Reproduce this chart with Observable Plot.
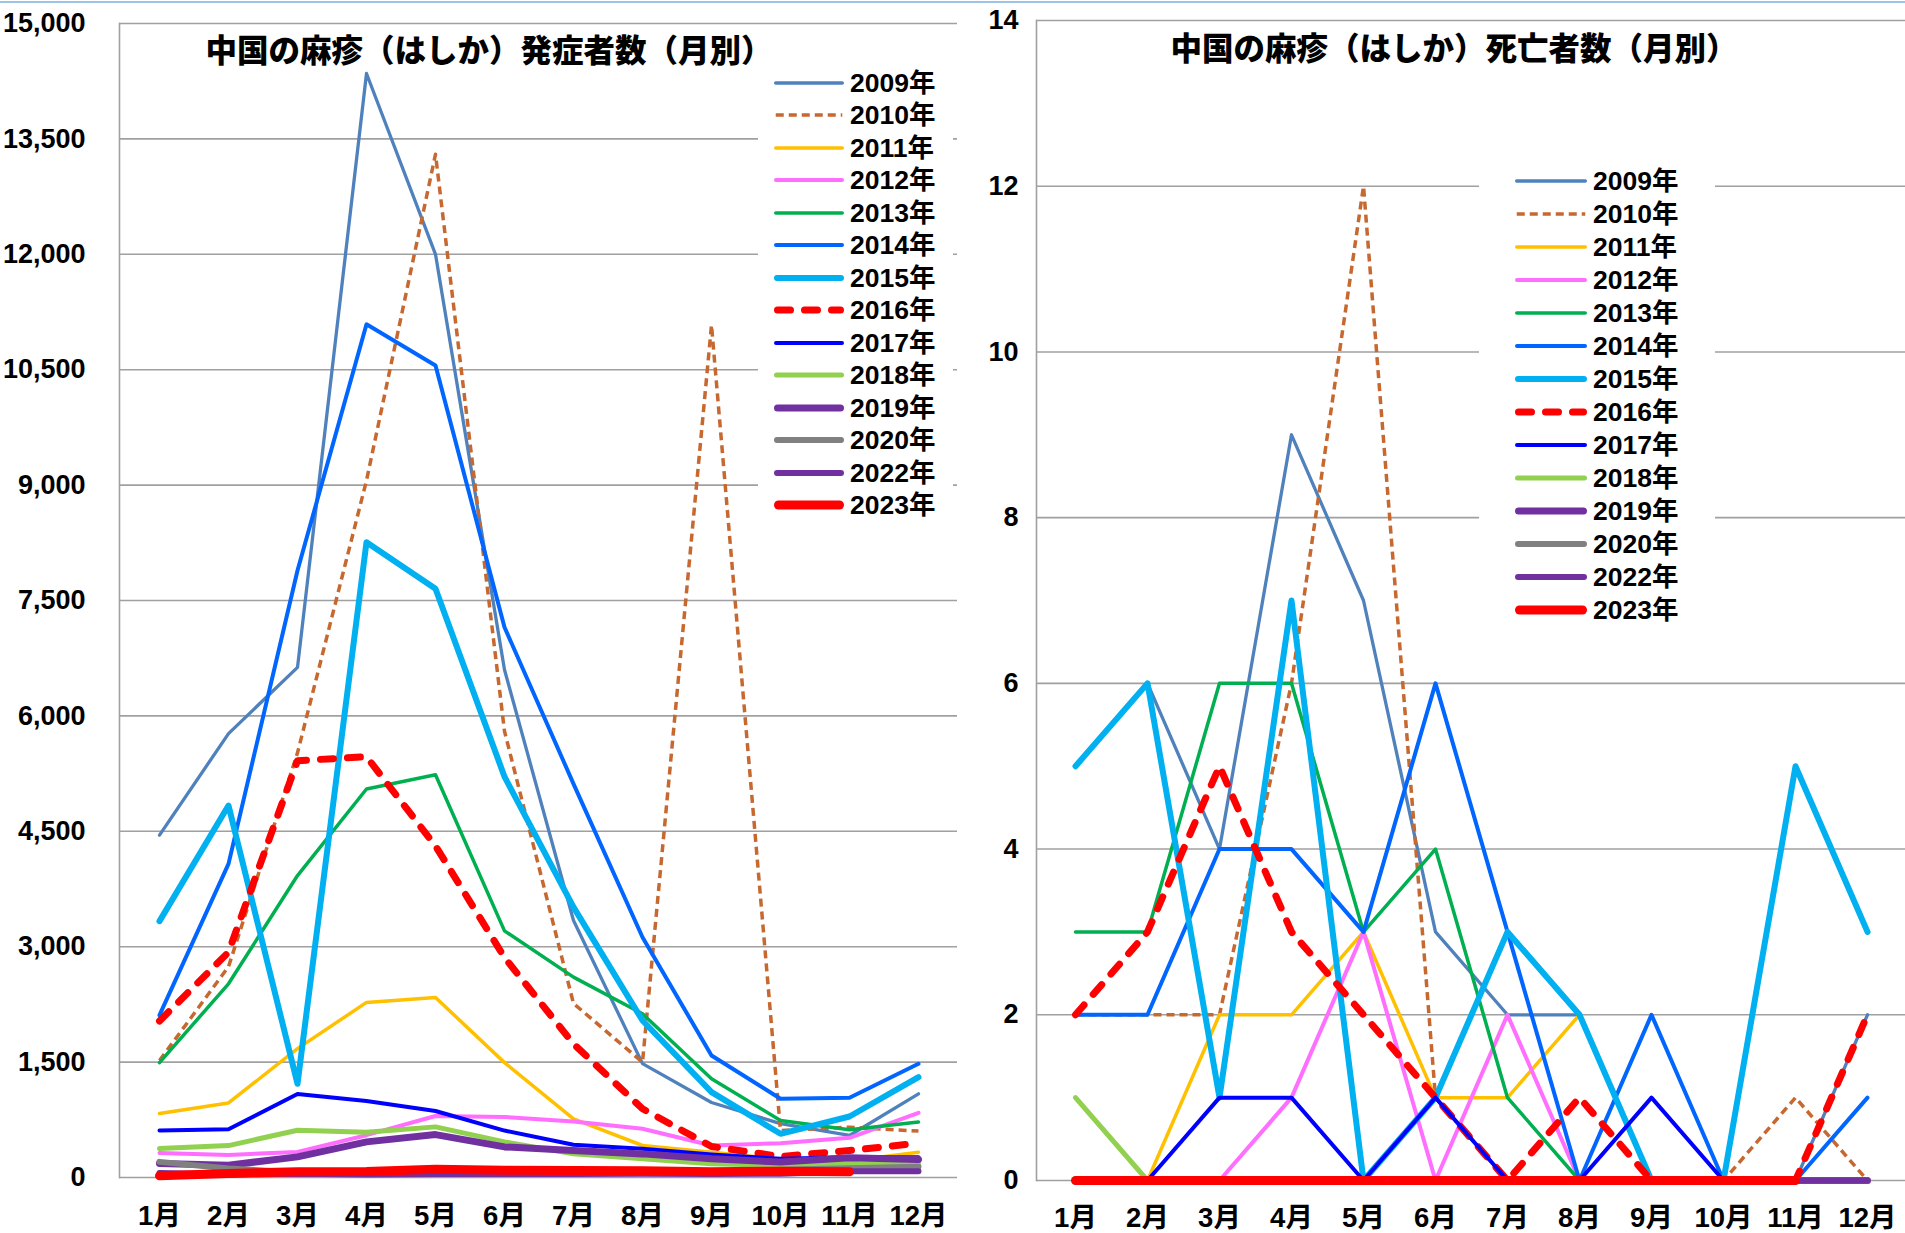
<!DOCTYPE html>
<html><head><meta charset="utf-8">
<script src="https://cdn.jsdelivr.net/npm/d3@7"></script>
<script src="https://cdn.jsdelivr.net/npm/@observablehq/plot@0.6"></script>
<style>
html,body{margin:0;padding:0;background:#fff;}
body{width:1905px;height:1233px;position:relative;overflow:hidden;font-family:"Liberation Sans","Noto Sans CJK JP",sans-serif;}
#topline{position:absolute;left:0;top:1px;width:1905px;height:2px;background:#9DC3E6;}
.chart{position:absolute;top:0;}
.title{position:absolute;font-family:"Noto Sans CJK JP",sans-serif;font-weight:900;font-size:31.5px;line-height:32px;white-space:nowrap;text-align:center;color:#000;}
.legend{position:absolute;background:#fff;}
.legend .lab{position:absolute;font-family:"Liberation Sans","Noto Sans CJK JP",sans-serif;font-weight:bold;font-size:26.5px;line-height:26px;color:#000;white-space:nowrap;}
.legend svg{position:absolute;overflow:visible;}
</style></head><body>
<div id="topline"></div>
<div id="left" class="chart" style="left:0;width:960px;height:1233px"></div>
<div id="right" class="chart" style="left:960px;width:945px;height:1233px"></div>
<div class="title" style="left:189px;width:600px;top:32px">中国の麻疹（はしか）発症者数（月別）</div>
<div class="title" style="left:1154px;width:600px;top:30px">中国の麻疹（はしか）死亡者数（月別）</div>
<div id="legL" class="legend" style="left:758px;top:62px;width:195px;height:462px"></div>
<div id="legR" class="legend" style="left:1479px;top:158px;width:236px;height:470px"></div>
<script>
// ---- categories ----
const months = ["1月","2月","3月","4月","5月","6月","7月","8月","9月","10月","11月","12月"];
const years = ["2009年","2010年","2011年","2012年","2013年","2014年","2015年","2016年","2017年","2018年","2019年","2020年","2022年","2023年"];

// ---- series styles ----
const colors = ["#4F81BD","#C6682F","#FFC000","#FF6EFF","#00B050","#0066FF","#00B0F0","#FF0000","#0000FF","#92D050","#7030A0","#808080","#7030A0","#FF0000"];
const widths = [3.3,3.5,3.5,4,3.5,4,6,7,4,5,7,6,6,9];
const dashes = [null,"8,5",null,null,null,null,null,"13,14",null,null,null,null,null,null];
const caps   = ["round","butt","round","round","round","round","round","round","round","round","round","round","round","round"];

// ---- measles cases per month (left chart) ----
const cases2009 = [4450,5770,6630,14350,12000,6600,3340,1480,975,700,546,1088];
const cases2010 = [1520,2740,5520,9060,13300,5800,2262,1499,11080,611,654,603];
const cases2011 = [831,969,1675,2276,2341,1493,763,416,329,240,215,329];
const cases2012 = [320,294,333,550,800,787,728,633,416,446,516,841];
const cases2013 = [1493,2518,3925,5050,5236,3206,2604,2128,1283,741,620,720];
const cases2014 = [2110,4077,7890,11090,10555,7153,5117,3123,1586,1023,1036,1478];
const cases2015 = [3332,4835,1218,8258,7652,5210,3515,2041,1109,568,793,1304];
const cases2016 = [2034,2929,5418,5469,4310,2860,1737,893,403,273,351,446];
const cases2017 = [610,627,1086,995,865,610,425,373,299,243,264,264];
const cases2018 = [376,415,614,588,658,463,307,243,178,156,178,178];
const cases2019 = [182,160,268,463,558,398,351,307,243,200,256,234];
const cases2020 = [203,117,66,50,45,50,60,70,80,100,120,140];
const cases2022 = [60,40,50,40,45,45,45,50,45,50,80,82];
const cases2023 = [22,52,74,78,108,95,90,87,74,82,74,null];

// ---- measles deaths per month (right chart) ----
const deaths2009 = [5,6,4,9,7,3,2,2,0,0,0,2];
const deaths2010 = [2,2,2,6,12,1,0,0,0,0,1,0];
const deaths2011 = [0,0,2,2,3,1,1,2,0,0,0,0];
const deaths2012 = [0,0,0,1,3,0,2,0,0,0,0,0];
const deaths2013 = [3,3,6,6,3,4,1,0,0,0,0,0];
const deaths2014 = [2,2,4,4,3,6,3,0,2,0,0,1];
const deaths2015 = [5,6,1,7,0,1,3,2,0,0,5,3];
const deaths2016 = [2,3,5,3,2,1,0,1,0,0,0,2];
const deaths2017 = [0,0,1,1,0,1,0,0,1,0,0,0];
const deaths2018 = [1,0,0,0,0,0,0,0,0,0,0,0];
const deaths2019 = [0,0,0,0,0,0,0,0,0,0,0,0];
const deaths2020 = [0,0,0,0,0,0,0,0,0,0,0,0];
const deaths2022 = [0,0,0,0,0,0,0,0,0,0,0,0];
const deaths2023 = [0,0,0,0,0,0,0,0,0,0,0,null];

// ---- axis ticks ----
const casesTicks = [0,1500,3000,4500,6000,7500,9000,10500,12000,13500,15000];
const deathsTicks = [0,2,4,6,8,10,12,14];

const casesSeries = [cases2009,cases2010,cases2011,cases2012,cases2013,cases2014,cases2015,cases2016,cases2017,cases2018,cases2019,cases2020,cases2022,cases2023];
const deathsSeries = [deaths2009,deaths2010,deaths2011,deaths2012,deaths2013,deaths2014,deaths2015,deaths2016,deaths2017,deaths2018,deaths2019,deaths2020,deaths2022,deaths2023];

function toRows(series){
  const rows = [];
  series.forEach((vals,i)=>vals.forEach((v,j)=>{ if(v!=null) rows.push({year:years[i], month:months[j], value:v}); }));
  return rows;
}

function chart(series, ticks, opts){
  const rows = toRows(series);
  const lines = years.map((y,i)=>Plot.line(rows.filter(d=>d.year===y), {
    x:"month", y:"value", stroke:colors[i], strokeWidth:widths[i],
    strokeDasharray:dashes[i]||undefined, strokeLinejoin:"round", strokeLinecap:caps[i]
  }));
  return Plot.plot({
    width:opts.width, height:1233,
    marginLeft:opts.ml, marginRight:opts.mr, marginTop:opts.mt, marginBottom:opts.mb,
    style:{fontFamily:'"Liberation Sans","Noto Sans CJK JP",sans-serif', fontSize:"27px", fontWeight:"bold", color:"#000", background:"transparent", overflow:"visible"},
    x:{type:"point", domain:months, padding:0.5, label:null},
    y:{domain:[0, ticks[ticks.length-1]], label:null},
    marks:[
      Plot.ruleY(ticks, {stroke:"#A0A0A0", strokeWidth:1.6}),
      Plot.frame({anchor:"left", stroke:"#A0A0A0", strokeWidth:1.6}),
      Plot.axisY(ticks, {tickSize:0, tickPadding:opts.yp, tickFormat:opts.fmt, fontSize:27, fontWeight:"bold", label:null}),
      Plot.axisX({tickSize:0, tickPadding:opts.xp, fontSize:27.5, fontWeight:"bold", label:null}),
      ...lines
    ]
  });
}

document.getElementById("left").append(chart(casesSeries, casesTicks, {width:960, ml:119, mr:3, mt:23, mb:56, yp:34, xp:28, fmt:d3.format(",")}));
document.getElementById("right").append(chart(deathsSeries, deathsTicks, {width:945, ml:76, mr:0, mt:20, mb:53, yp:18, xp:27, fmt:d3.format("d")}));

function legend(id, o){
  const box = d3.select("#"+id);
  years.forEach((y,i)=>{
    const cy = o.first + o.step*i;
    const svg = box.append("svg").attr("width", o.x2-o.x1).attr("height", 14)
      .style("left", o.x1+"px").style("top", (cy-7)+"px");
    svg.append("line").attr("x1", widths[i]/2).attr("x2", o.x2-o.x1-widths[i]/2).attr("y1",7).attr("y2",7)
      .attr("stroke", colors[i]).attr("stroke-width", widths[i])
      .attr("stroke-linecap", caps[i]).attr("stroke-dasharray", dashes[i]);
    box.append("div").attr("class","lab").style("left", o.tx+"px").style("top", (cy-13)+"px").text(y);
  });
}
legend("legL", {first:20.5, step:32.5, x1:16, x2:86, tx:92});
legend("legR", {first:23, step:33, x1:36, x2:108, tx:114});
</script>
</body></html>
